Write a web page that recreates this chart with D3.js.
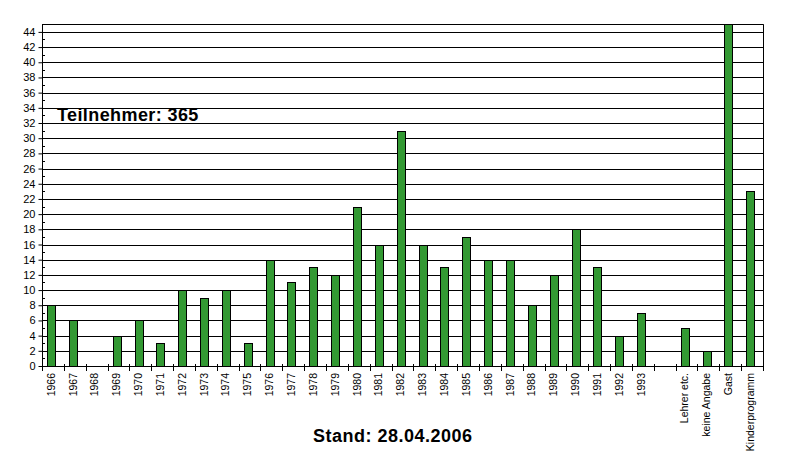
<!DOCTYPE html>
<html><head><meta charset="utf-8">
<script src="https://cdn.jsdelivr.net/npm/d3@7/dist/d3.min.js"></script>
<style>html,body{margin:0;padding:0;background:#fff;} svg{display:block;}</style>
</head><body>
<script>
const categories = ["1966","1967","1968","1969","1970","1971","1972","1973","1974","1975","1976","1977","1978","1979","1980","1981","1982","1983","1984","1985","1986","1987","1988","1989","1990","1991","1992","1993","","Lehrer etc.","keine Angabe","Gast","Kinderprogramm"];
const values = [8,6,0,4,6,3,10,9,10,3,14,11,13,12,21,16,31,16,13,17,14,14,8,12,18,13,4,7,null,5,2,45,23];
const yTicks = [0,2,4,6,8,10,12,14,16,18,20,22,24,26,28,30,32,34,36,38,40,42,44];
const yMinorTicks = [1,3,5,7,9,11,13,15,17,19,21,23,25,27,29,31,33,35,37,39,41,43,45];
const title = "Teilnehmer: 365";
const footer = "Stand: 28.04.2006";

const W = 799, H = 463;
const L = 42, R = 763, T = 24.3, B = 366;
const svg = d3.select("body").append("svg").attr("width", W).attr("height", H);
svg.append("rect").attr("width", W).attr("height", H).attr("fill", "#fff");

const idx = categories.map((d,i)=>i);
const xCell = d3.scaleBand().domain(idx).range([L, R]).padding(0);
const x = d3.scaleBand().domain(idx).range([L, R]).paddingInner(0.61).paddingOuter(0.305);
const y = d3.scaleLinear().domain([0,45]).range([B, T]);

// gridlines
svg.append("g").selectAll("line").data(yTicks.filter(d=>d>0)).join("line")
  .attr("x1", L).attr("x2", R).attr("y1", d=>Math.round(y(d))+0.5).attr("y2", d=>Math.round(y(d))+0.5)
  .attr("stroke", "#000").attr("stroke-width", 1);

// border top/right
svg.append("line").attr("x1", L).attr("x2", R+0.5).attr("y1", Math.round(T)+0.5).attr("y2", Math.round(T)+0.5).attr("stroke","#000");
svg.append("line").attr("x1", R+0.5).attr("x2", R+0.5).attr("y1", T).attr("y2", B).attr("stroke","#000");

// bars
svg.append("g").selectAll("rect").data(values.map((v,i)=>({v,i})).filter(d=>d.v)).join("rect")
  .attr("x", d=>Math.floor(x(d.i))-0.5)
  .attr("y", d=>Math.round(y(d.v))+0.5)
  .attr("width", Math.floor(x.bandwidth()))
  .attr("height", d=>Math.round(B) - Math.round(y(d.v)))
  .attr("fill", "#339933").attr("stroke", "#000").attr("stroke-width", 1);

// y axis
const yAxis = d3.axisLeft(y).tickValues(yTicks).tickSize(4).tickPadding(3).tickFormat(d3.format("d"));
const gy = svg.append("g").attr("transform", `translate(${L+0.5},0)`).call(yAxis);
gy.select(".domain").attr("d", `M0,${T}V${B}`).attr("stroke","#000");
gy.selectAll(".tick line").attr("stroke","#000");
gy.selectAll("text").attr("font-family","Liberation Sans, Arial, sans-serif").attr("font-size","11px").attr("fill","#000");
// minor ticks inside
svg.append("g").selectAll("line").data(yMinorTicks).join("line")
  .attr("x1", L).attr("x2", L+3).attr("y1", d=>Math.round(y(d))+0.5).attr("y2", d=>Math.round(y(d))+0.5)
  .attr("stroke","#000");

// x axis
svg.append("line").attr("x1", L).attr("x2", R+0.5).attr("y1", Math.round(B)+0.5).attr("y2", Math.round(B)+0.5).attr("stroke","#000");
const bounds = idx.map(i=>xCell(i)).concat([R]);
svg.append("g").selectAll("line").data(bounds).join("line")
  .attr("x1", d=>Math.round(d)+0.5).attr("x2", d=>Math.round(d)+0.5)
  .attr("y1", B-2).attr("y2", B+5).attr("stroke","#000");

svg.append("g").selectAll("text").data(idx).join("text")
  .attr("transform", i=>`translate(${xCell(i)+xCell.bandwidth()/2 - 1},${B+7}) rotate(-90)`)
  .attr("text-anchor","end").attr("dominant-baseline","middle")
  .attr("font-family","Liberation Sans, Arial, sans-serif").attr("font-size","10.5px").attr("fill","#000")
  .text(i=>categories[i]);

// texts
svg.append("text").attr("x", 57).attr("y", 121).attr("font-family","Liberation Sans, Arial, sans-serif")
  .attr("font-weight","bold").attr("font-size","18px").attr("letter-spacing","0.4px").attr("fill","#000").text(title);
svg.append("text").attr("x", 313).attr("y", 442).attr("font-family","Liberation Sans, Arial, sans-serif")
  .attr("font-weight","bold").attr("font-size","18px").attr("letter-spacing","0.5px").attr("fill","#000").text(footer);
</script>
</body></html>
